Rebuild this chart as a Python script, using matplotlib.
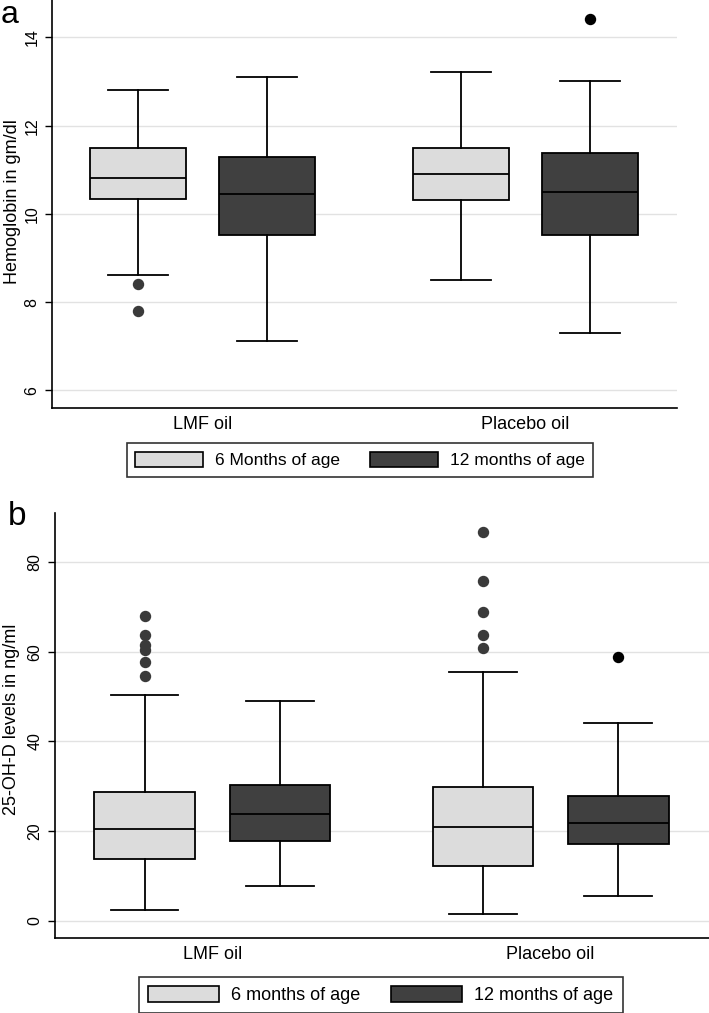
import matplotlib.pyplot as plt
from matplotlib.patches import Patch

plt.rcParams['font.family'] = ['Liberation Sans', 'DejaVu Sans']

groups = ['LMF oil', 'Placebo oil']

# Panel a: hemoglobin (gm/dl), box statistics
hb_6m_whislo = [8.61, 8.51]
hb_6m_q1 = [10.33, 10.32]
hb_6m_med = [10.81, 10.91]
hb_6m_q3 = [11.50, 11.49]
hb_6m_whishi = [12.81, 13.21]
hb_6m_fliers = [[8.41, 7.81], []]

hb_12m_whislo = [7.11, 7.29]
hb_12m_q1 = [9.53, 9.52]
hb_12m_med = [10.46, 10.50]
hb_12m_q3 = [11.30, 11.39]
hb_12m_whishi = [13.10, 13.01]
hb_12m_fliers = [[], [14.41]]

# Panel b: 25-OH-D (ng/ml)
vd_6m_whislo = [2.4, 1.5]
vd_6m_q1 = [13.8, 12.1]
vd_6m_med = [20.4, 20.8]
vd_6m_q3 = [28.8, 29.9]
vd_6m_whishi = [50.4, 55.6]
vd_6m_fliers = [[67.9, 63.7, 61.5, 60.3, 57.7, 54.7],
                [86.7, 75.8, 69.0, 63.7, 60.9]]

vd_12m_whislo = [7.75, 5.45]
vd_12m_q1 = [17.7, 17.1]
vd_12m_med = [23.7, 21.8]
vd_12m_q3 = [30.2, 27.8]
vd_12m_whishi = [49.1, 44.0]
vd_12m_fliers = [[], [58.8]]

LIGHT = '#dcdcdc'
DARK = '#404040'
GRID = '#e2e2e2'


def make_stats(whislo, q1, med, q3, whishi, fliers):
    return [dict(whislo=a, q1=b, med=c, q3=d, whishi=e, fliers=f)
            for a, b, c, d, e, f in zip(whislo, q1, med, q3, whishi, fliers)]


def draw_panel(ax, stats_6m, stats_12m, capw):
    centers = list(range(len(groups)))
    offset = 0.2
    width = 0.297
    for stats, shift, face, fcol in [(stats_6m, -offset, LIGHT, '#3a3a3a'),
                                     (stats_12m, offset, DARK, 'black')]:
        ax.bxp(stats, positions=[c + shift for c in centers], widths=width,
               capwidths=capw, patch_artist=True, manage_ticks=False,
               boxprops=dict(facecolor=face, edgecolor='black', linewidth=1.3),
               medianprops=dict(color='black', linewidth=1.3),
               whiskerprops=dict(color='black', linewidth=1.3),
               capprops=dict(color='black', linewidth=1.3),
               flierprops=dict(marker='o', markerfacecolor=fcol,
                               markeredgecolor=fcol, markersize=7.2))
    ax.set_xticks(centers)
    ax.set_xticklabels(groups, fontsize=13)
    ax.set_xlim(-0.465, 1.468)
    ax.tick_params(axis='x', length=0, pad=6)
    ax.tick_params(axis='y', length=5, width=1, labelsize=11.5, pad=4)
    for lab in ax.get_yticklabels():
        lab.set_rotation(90)
        lab.set_va('center')
    ax.yaxis.grid(True, color=GRID, linewidth=1)
    ax.set_axisbelow(True)
    ax.spines['top'].set_visible(False)
    ax.spines['right'].set_visible(False)
    ax.spines['left'].set_linewidth(1.2)
    ax.spines['bottom'].set_linewidth(1.2)


fig = plt.figure(figsize=(7.09, 10.13), dpi=100)
W, H = 709, 1013

ax_a = fig.add_axes([52 / W, 1 - 408 / H, 625 / W, 408 / H])
ax_a.set_ylim(5.6, 14.85)
ax_a.set_yticks([6, 8, 10, 12, 14])
draw_panel(ax_a,
           make_stats(hb_6m_whislo, hb_6m_q1, hb_6m_med, hb_6m_q3, hb_6m_whishi, hb_6m_fliers),
           make_stats(hb_12m_whislo, hb_12m_q1, hb_12m_med, hb_12m_q3, hb_12m_whishi, hb_12m_fliers),
           0.185)
ax_a.set_ylabel('Hemoglobin in gm/dl', fontsize=13)
ax_a.yaxis.set_label_coords(-0.05, 0.505)

ax_b = fig.add_axes([55 / W, 1 - 938 / H, 654 / W, 425 / H])
ax_b.set_ylim(-3.9, 91.0)
ax_b.set_yticks([0, 20, 40, 60, 80])
draw_panel(ax_b,
           make_stats(vd_6m_whislo, vd_6m_q1, vd_6m_med, vd_6m_q3, vd_6m_whishi, vd_6m_fliers),
           make_stats(vd_12m_whislo, vd_12m_q1, vd_12m_med, vd_12m_q3, vd_12m_whishi, vd_12m_fliers),
           0.2)
ax_b.set_ylabel('25-OH-D levels in ng/ml', fontsize=13)
ax_b.yaxis.set_label_coords(-0.054, 0.515)


def add_legend(labels, x, y, size):
    handles = [Patch(facecolor=LIGHT, edgecolor='black', linewidth=1.2),
               Patch(facecolor=DARK, edgecolor='black', linewidth=1.2)]
    leg = fig.legend(handles, labels, loc='upper center', bbox_to_anchor=(x, y),
                     ncol=2, fontsize=size, frameon=True, fancybox=False,
                     handlelength=3.9, handleheight=0.95, handletextpad=0.7,
                     columnspacing=1.7, borderpad=0.5, borderaxespad=0)
    leg.get_frame().set_edgecolor('black')
    leg.get_frame().set_linewidth(1.2)


add_legend(['6 Months of age', '12 months of age'], 360 / W, 1 - 443 / H, 12.5)
add_legend(['6 months of age', '12 months of age'], 381 / W, 1 - 977 / H, 13)

fig.text(1 / W, 1 - 23 / H, 'a', fontsize=23, va='baseline')
fig.text(8 / W, 1 - 525 / H, 'b', fontsize=24, va='baseline')

fig.savefig('out.png', dpi=100)
